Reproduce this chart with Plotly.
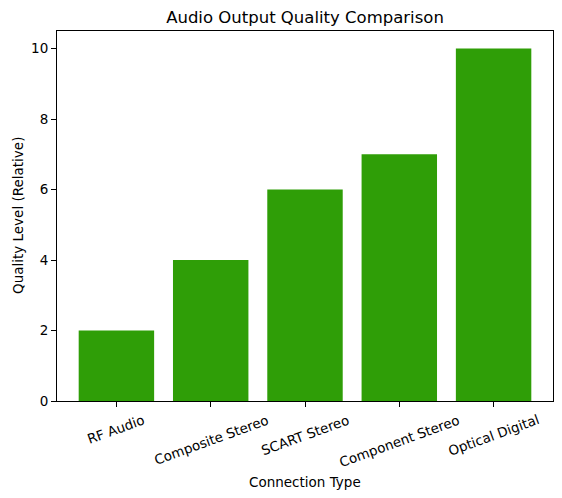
import plotly.graph_objects as go

categories = ["RF Audio", "Composite Stereo", "SCART Stereo", "Component Stereo", "Optical Digital"]
quality = [2, 4, 6, 7, 10]
y_ticks = [0, 2, 4, 6, 8, 10]

FONT = "DejaVu Sans"
BAR = "#2f9e07"

fig = go.Figure()
fig.add_trace(go.Bar(x=list(range(len(categories))), y=quality, width=0.8,
                     marker=dict(color=BAR, line=dict(width=0))))

annotations = []
for i, c in enumerate(categories):
    annotations.append(dict(x=i, y=0, xref="x", yref="paper", text=c, showarrow=False,
                            textangle=-20, xanchor="center", yanchor="top", yshift=-8,
                            font=dict(family=FONT, size=13.5, color="black")))
annotations.append(dict(x=0.5, y=0, xref="paper", yref="paper", text="Connection Type",
                        showarrow=False, xanchor="center", yanchor="middle", yshift=-81,
                        font=dict(family=FONT, size=13.5, color="black")))
annotations.append(dict(x=0, y=0.5, xref="paper", yref="paper", text="Quality Level (Relative)",
                        showarrow=False, textangle=-90, xanchor="center", yanchor="middle",
                        xshift=-39, font=dict(family=FONT, size=13.5, color="black")))

fig.update_layout(
    width=562, height=498,
    margin=dict(l=57, r=9, t=31, b=97),
    paper_bgcolor="white", plot_bgcolor="white",
    showlegend=False,
    title=dict(text="Audio Output Quality Comparison", x=0.5, xref="paper", xanchor="center",
               y=1 - 17 / 498, yanchor="middle", font=dict(family=FONT, size=16.5, color="black")),
    annotations=annotations,
    xaxis=dict(range=[-0.63, 4.63], tickmode="array", tickvals=list(range(len(categories))),
               showticklabels=False, ticks="outside", ticklen=5, tickcolor="black",
               showline=True, linecolor="black", linewidth=1, mirror=True,
               showgrid=False, zeroline=False),
    yaxis=dict(range=[0, 10.5], tickmode="array", tickvals=y_ticks,
               ticks="outside", ticklen=5, tickcolor="black",
               tickfont=dict(family=FONT, size=13.5, color="black"),
               showline=True, linecolor="black", linewidth=1, mirror=True,
               showgrid=False, zeroline=False),
)

fig.write_html("out.html")
